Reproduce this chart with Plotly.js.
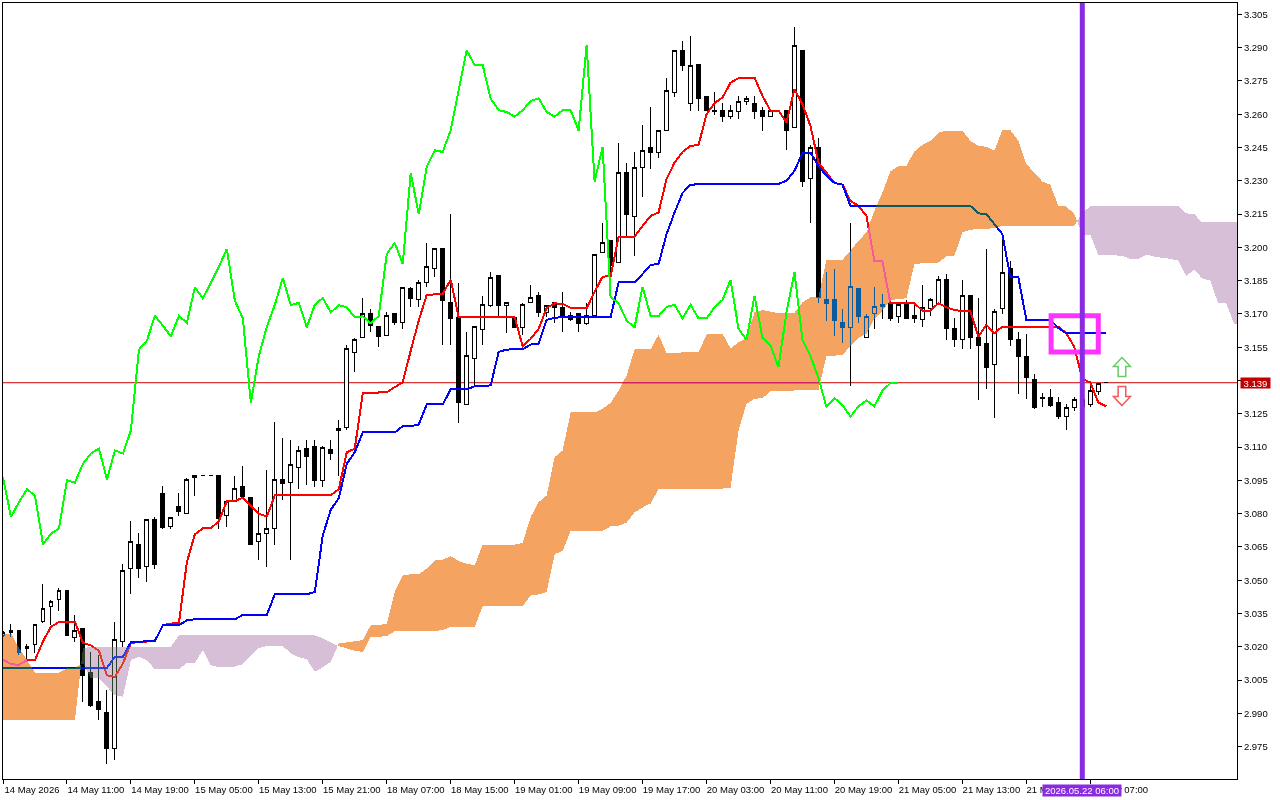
<!DOCTYPE html>
<html>
<head>
<meta charset="utf-8">
<script src="https://cdn.plot.ly/plotly-3.0.1.min.js"></script>
<style>
html, body { margin: 0; padding: 0; background: #fff; }
#chart { width: 1280px; height: 800px; }
/* the terminal paints the cloud in XOR style, candles and lines show through inverted */
.js-fill { mix-blend-mode: difference; }
/* no antialiasing in the terminal, and soft edges turn into odd colours under the blend */
.scatterlayer path, .boxlayer path { shape-rendering: crispEdges !important; }
</style>
</head>
<body>
<div id="chart"></div>
<script>
var opens = [
3.0252,3.0263,3.0275,3.0191,3.0211,3.0314,3.0382,3.0413,3.0454,3.0242,
3.0283,3.0085,2.9955,2.9906,2.9741,3.0222,3.0551,3.0662,3.056,3.0773,
3.0891,3.0742,3.0833,3.08,3.0962,3.0971,3.0971,3.0971,3.0791,3.0857,
3.0923,3.0873,3.0674,3.071,3.0733,3.0953,3.094,3.101,3.1094,3.1103,
3.095,3.1089,3.1184,3.119,3.1527,3.1592,3.17,3.1642,3.1601,3.17,
3.166,3.1813,3.1763,3.184,3.1903,3.1993,3.1751,3.1682,3.1291,3.15,
3.1631,3.1739,3.1871,3.1739,3.1685,3.164,3.175,3.1781,3.1707,3.175,
3.173,3.1691,3.17,3.1658,3.1691,3.1979,3.203,3.193,3.2339,3.2141,
3.2362,3.2452,3.2429,3.2528,3.2699,3.2889,3.265,3.2822,3.2681,3.2618,
3.2618,3.2589,3.261,3.2659,3.265,3.2618,3.2591,3.2618,3.2618,3.2542,
3.2888,3.2312,3.2452,3.1763,3.1764,3.166,3.164,3.1813,3.1592,3.17,
3.1732,3.1745,3.169,3.1745,3.1691,3.1673,3.1723,3.1745,3.1853,3.1633,
3.1583,3.1781,3.1592,3.1568,3.1471,3.1723,3.1903,3.1583,3.151,3.1403,
3.1323,3.1322,3.13,3.1239,3.128,3.1313,3.1291,3.1352,3.139];
var highs = [
3.0271,3.0302,3.0275,3.0212,3.0301,3.0482,3.0413,3.0464,3.0454,3.0342,
3.0283,3.0176,3.0162,3.0005,3.0314,3.0572,3.0765,3.0713,3.0773,3.0785,
3.0923,3.0782,3.0891,3.0962,3.0971,3.0971,3.0971,3.0971,3.0855,3.0972,
3.1013,3.0873,3.083,3.0995,3.1211,3.1139,3.113,3.1107,3.113,3.113,
3.1107,3.1134,3.1224,3.1561,3.1593,3.1772,3.1723,3.1642,3.1709,3.17,
3.182,3.1823,3.1853,3.202,3.1993,3.1993,3.215,3.184,3.1619,3.1642,
3.1782,3.189,3.1871,3.175,3.1685,3.175,3.1832,3.1799,3.1739,3.175,
3.18,3.1709,3.17,3.175,3.197,3.2111,3.203,3.2471,3.238,3.243,
3.2552,3.2633,3.2528,3.2762,3.2888,3.293,3.2952,3.2822,3.2681,3.27,
3.265,3.2641,3.2681,3.2682,3.2681,3.2632,3.2618,3.2618,3.2618,3.2993,
3.2888,3.2462,3.2492,3.189,3.1903,3.1723,3.211,3.1813,3.17,3.1823,
3.179,3.1745,3.1741,3.1763,3.1748,3.1832,3.1773,3.1871,3.188,3.1682,
3.1853,3.1781,3.1772,3.1993,3.1723,3.2061,3.194,3.162,3.161,3.143,
3.1343,3.1363,3.1325,3.1292,3.1325,3.1325,3.139,3.139,3.139];
var lows = [
3.0243,3.0243,3.0162,3.014,3.0171,3.0306,3.0297,3.0362,3.0249,3.0222,
2.9952,2.993,2.987,2.9672,2.969,3.02,3.0437,3.0509,3.0492,3.0551,
3.0733,3.0733,3.0789,3.08,3.0878,3.0971,3.0971,3.0733,3.074,3.0857,
3.0879,3.0659,3.059,3.056,3.0657,3.086,3.059,3.091,3.0927,3.0918,
3.0918,3.104,3.0968,3.1175,3.1437,3.1592,3.1617,3.155,3.1601,3.1651,
3.1631,3.173,3.173,3.182,3.1868,3.1559,3.1559,3.1208,3.1291,3.137,
3.1559,3.173,3.1685,3.1616,3.164,3.1607,3.175,3.1685,3.1688,3.1658,
3.1617,3.167,3.1617,3.1652,3.1691,3.1979,3.1863,3.193,3.2045,3.1961,
3.2229,3.2351,3.2402,3.2528,3.2679,3.2795,3.2615,3.2615,3.2618,3.2597,
3.2567,3.258,3.258,3.2641,3.258,3.2526,3.2591,3.2618,3.2438,3.2542,
3.227,3.211,3.1748,3.167,3.1602,3.1568,3.1377,3.1658,3.1592,3.1633,
3.1678,3.167,3.1658,3.168,3.1658,3.164,3.169,3.1745,3.1583,3.155,
3.1543,3.1543,3.131,3.1363,3.1232,3.17,3.1557,3.134,3.1318,3.1271,
3.128,3.128,3.1228,3.1175,3.1262,3.1262,3.128,3.1337,3.139];
var closes = [
3.0264,3.0274,3.0176,3.0202,3.0301,3.0373,3.0404,3.0454,3.0249,3.0274,
3.0069,2.9937,2.9919,2.9741,3.0233,3.0544,3.0674,3.0551,3.0773,3.0569,
3.0738,3.0782,3.081,3.0953,3.0971,3.0971,3.0971,3.0778,3.0855,3.0913,
3.0879,3.0659,3.071,3.0733,3.0953,3.0938,3.1021,3.1085,3.1058,3.095,
3.1098,3.1071,3.1177,3.1543,3.1583,3.17,3.1649,3.1599,3.1691,3.166,
3.182,3.177,3.184,3.1912,3.1993,3.176,3.168,3.13,3.1511,3.1642,
3.1741,3.1862,3.1739,3.175,3.164,3.1741,3.1772,3.1707,3.1739,3.173,
3.1685,3.1674,3.1658,3.1691,3.197,3.202,3.1917,3.2339,3.2148,3.2362,
3.2438,3.2429,3.2528,3.2708,3.2888,3.2821,3.2821,3.267,3.2618,3.261,
3.2589,3.2618,3.2659,3.2672,3.261,3.2589,3.2618,3.2618,3.2526,3.2911,
3.2297,3.2452,3.1775,3.1748,3.167,3.164,3.1822,3.169,3.169,3.1732,
3.1741,3.168,3.1741,3.168,3.168,3.173,3.1763,3.1853,3.1633,3.1583,
3.1781,3.1592,3.1559,3.146,3.1709,3.1888,3.1583,3.151,3.1412,3.128,
3.132,3.1289,3.1238,3.128,3.1313,3.1284,3.1354,3.1388,3.139];

var tenkan = [
3.0143,3.0122,3.0119,3.014,3.014,3.0225,3.029,3.0312,3.0312,3.0312,
3.0218,3.0206,3.0182,3.0072,3.0065,3.0125,3.0218,3.0222,3.0225,3.0227,
3.0297,3.0305,3.0306,3.0582,3.0707,3.0734,3.0734,3.0767,3.0857,3.0857,
3.0872,3.0837,3.08,3.0788,3.0882,3.0882,3.0882,3.0882,3.0882,3.0882,
3.0882,3.0884,3.091,3.1077,3.1093,3.1343,3.1345,3.1346,3.1347,3.137,
3.1392,3.1535,3.167,3.1786,3.1787,3.179,3.1854,3.1685,3.1685,3.1685,
3.1685,3.1685,3.1685,3.1685,3.1685,3.1554,3.1588,3.1633,3.1727,3.1748,
3.1745,3.1727,3.1725,3.1725,3.18,3.1868,3.187,3.2048,3.2048,3.2048,
3.2097,3.2142,3.2157,3.2308,3.2382,3.243,3.2457,3.2461,3.26,3.265,
3.2675,3.2742,3.2762,3.2765,3.2765,3.2682,3.2616,3.2616,3.2562,3.2713,
3.2645,3.2547,3.2382,3.2336,3.229,3.2283,3.221,3.2187,3.2142,3.1937,
3.1937,3.1748,3.1748,3.1748,3.1748,3.1715,3.1715,3.1748,3.173,3.1718,
3.1712,3.1712,3.1598,3.1651,3.1613,3.1643,3.1643,3.1643,3.1643,3.1643,
3.1643,3.1643,3.1643,3.1613,3.1551,3.1409,3.1391,3.1301,3.1283];
var kijun = [
3.0105,3.0105,3.0105,3.0105,3.0105,3.0105,3.0105,3.0105,3.0105,3.0105,
3.0105,3.0105,3.0105,3.0105,3.0155,3.0155,3.0221,3.0223,3.0225,3.0227,
3.0297,3.0297,3.0297,3.032,3.0324,3.0324,3.0324,3.0324,3.0324,3.0324,
3.0344,3.0344,3.0344,3.0344,3.0437,3.0437,3.0437,3.0437,3.0437,3.0447,
3.0702,3.0818,3.0869,3.1025,3.1077,3.1166,3.1166,3.1166,3.1166,3.1166,
3.1194,3.1194,3.1202,3.1292,3.1292,3.1292,3.136,3.136,3.136,3.1374,
3.1376,3.1378,3.1529,3.1539,3.1541,3.1541,3.1562,3.1565,3.1673,3.1683,
3.1685,3.1685,3.1685,3.1685,3.1685,3.1685,3.1685,3.1842,3.1842,3.1842,
3.188,3.1921,3.1925,3.206,3.2157,3.2245,3.2283,3.2283,3.2283,3.2283,
3.2283,3.2285,3.2285,3.2285,3.2285,3.2285,3.2285,3.2286,3.23,3.2345,
3.2425,3.2427,3.2367,3.2322,3.229,3.2283,3.2187,3.2187,3.2187,3.2187,
3.2187,3.2187,3.2187,3.2187,3.2187,3.2187,3.2187,3.2187,3.2187,3.2187,
3.2187,3.2187,3.2153,3.215,3.2105,3.206,3.1865,3.1865,3.1674,3.1674,
3.1674,3.1674,3.1637,3.1613,3.1613,3.1613,3.1613,3.1613,3.1613];
var chikou = [
3.0965,3.0785,3.0852,3.091,3.0882,3.0662,3.071,3.0733,3.095,3.094,
3.1025,3.1071,3.1094,3.0954,3.1085,3.1071,3.1175,3.1539,3.158,3.1692,
3.1647,3.1599,3.1691,3.166,3.182,3.177,3.184,3.1912,3.1993,3.176,
3.168,3.13,3.1511,3.1642,3.1741,3.1862,3.1739,3.175,3.164,3.1741,
3.1772,3.1707,3.1739,3.173,3.1685,3.1689,3.1658,3.1691,3.197,3.202,
3.1925,3.2336,3.2149,3.2363,3.2437,3.243,3.2528,3.2708,3.2888,3.2821,
3.2821,3.267,3.2618,3.261,3.2589,3.2618,3.2659,3.2672,3.261,3.2589,
3.2618,3.2618,3.2526,3.2911,3.2297,3.2452,3.1775,3.1748,3.167,3.164,
3.1822,3.169,3.169,3.1732,3.1741,3.168,3.1741,3.168,3.168,3.173,
3.1763,3.1853,3.1633,3.1583,3.1781,3.1592,3.1559,3.146,3.1709,3.1888,
3.1583,3.151,3.1412,3.128,3.1321,3.1289,3.1238,3.1283,3.131,3.1284,
3.1354,3.1388,3.139];
var spanA = [
3.026,3.026,3.0194,3.014,3.0083,3.0083,3.0083,3.0083,3.0104,3.0105,
3.0126,3.0058,3.0058,3.002,2.9982,2.9975,3.014,3.0155,3.014,3.0099,
3.0099,3.0099,3.0099,3.0128,3.0128,3.0185,3.0117,3.0108,3.0107,3.0111,
3.0122,3.0162,3.0194,3.0203,3.0203,3.0203,3.0171,3.0153,3.0144,3.0087,
3.0108,3.0132,3.0215,3.022,3.0225,3.023,3.0297,3.0297,3.0305,3.0447,
3.0522,3.0527,3.0527,3.0553,3.0589,3.0593,3.0608,3.0587,3.0575,3.0567,
3.0661,3.0661,3.0661,3.0661,3.0661,3.0668,3.0785,3.0852,3.0882,3.1055,
3.1085,3.1256,3.1256,3.1256,3.1256,3.1273,3.1299,3.1355,3.1422,3.154,
3.154,3.154,3.1607,3.1523,3.1523,3.1527,3.1527,3.1527,3.1607,3.161,
3.161,3.1545,3.1572,3.1592,3.1707,3.1718,3.171,3.1703,3.1703,3.1705,
3.1752,3.1775,3.1775,3.1944,3.1944,3.1944,3.1985,3.203,3.2067,3.2165,
3.2247,3.2342,3.2367,3.2367,3.2432,3.2462,3.248,3.2517,3.2525,3.2525,
3.2525,3.248,3.2457,3.2453,3.2435,3.2528,3.2528,3.248,3.2375,3.2337,
3.2297,3.2282,3.2187,3.2184,3.215,3.2057,3.2057,3.1966,3.1966,3.1964,
3.1962,3.1948,3.1948,3.1967,3.1958,3.1953,3.1948,3.194,3.1872,3.1899,
3.186,3.185,3.1748,3.1748,3.1655,3.1655];
var spanB = [
2.987,2.987,2.987,2.987,2.987,2.987,2.987,2.987,2.987,2.987,
3.0194,3.02,3.02,3.02,3.02,3.02,3.02,3.02,3.02,3.02,
3.02,3.02,3.0252,3.0252,3.0252,3.0252,3.0252,3.0252,3.0252,3.0252,
3.0252,3.0252,3.0252,3.0252,3.0252,3.0252,3.0252,3.0252,3.0252,3.0252,
3.0239,3.0221,3.0203,3.0193,3.0182,3.0177,3.0245,3.0245,3.0249,3.027,
3.0272,3.0272,3.0272,3.0272,3.0272,3.0275,3.029,3.029,3.029,3.029,
3.0383,3.0383,3.0383,3.0383,3.0383,3.0384,3.0432,3.0436,3.0447,3.0617,
3.0632,3.0722,3.0722,3.0722,3.0722,3.0722,3.0743,3.0746,3.076,3.0806,
3.0828,3.0846,3.091,3.091,3.091,3.091,3.091,3.091,3.091,3.091,
3.0913,3.0917,3.1175,3.1295,3.1318,3.132,3.1352,3.1355,3.1355,3.1355,
3.1358,3.1358,3.1358,3.1512,3.1512,3.1516,3.1554,3.1592,3.1611,3.1679,
3.1715,3.176,3.1768,3.177,3.1925,3.1928,3.1928,3.1932,3.1959,3.1962,
3.2067,3.2079,3.2083,3.2083,3.2087,3.2097,3.2097,3.2097,3.2097,3.2097,
3.2097,3.2097,3.2097,3.2097,3.2097,3.2157,3.2184,3.2187,3.2187,3.2187,
3.2187,3.2187,3.2187,3.2187,3.2187,3.2187,3.2187,3.2187,3.2153,3.215,
3.2112,3.2112,3.2112,3.2112,3.2112,3.2112];

var timeTicks = [0,8,16,24,32,40,48,56,64,72,80,88,96,104,112,120,128,136];
var timeLabels = ["14 May 2026","14 May 11:00","14 May 19:00","15 May 05:00","15 May 13:00","15 May 21:00",
    "18 May 07:00","18 May 15:00","19 May 01:00","19 May 09:00","19 May 17:00","20 May 03:00",
    "20 May 11:00","20 May 19:00","21 May 05:00","21 May 13:00","21 May 21:00","22 May 07:00"];
var priceTicks = [3.305,3.290,3.275,3.260,3.245,3.230,3.215,3.200,3.185,3.170,3.155,3.140,3.125,3.110,3.095,3.080,3.065,3.050,3.035,3.020,3.005,2.990,2.975];

var bidPrice = 3.139;
var cursorBar = 135;
var cursorLabel = "2026.05.22 06:00";
var boxBars = [131.1, 137];
var boxPrices = [3.1528, 3.1692];
var arrowBar = 139.96;
var arrowUpPrice = 3.1461;
var arrowDownPrice = 3.133;

var xRange = [0, 154.35];
var yRange = [2.96045, 3.3101];

function index(arr){
    var v = [];
    for(var i = 0; i < arr.length; i++){
        v.push(i);
    }
    return v;
}

// split the span into runs of one sign and close each run as a polygon
function cloud(sign){
    var xs = [], ys = [];
    var run = null;
    function flush(){
        if(!run) return;
        if(run.sign == sign){
            if(xs.length) { xs.push(null); ys.push(null); }
            for(var k = 0; k < run.x.length; k++){ xs.push(run.x[k]); ys.push(run.a[k]); }
            for(var k = run.x.length-1; k >= 0; k--){ xs.push(run.x[k]); ys.push(run.b[k]); }
        }
    }
    for(var i = 0; i < spanA.length; i++){
        var s = spanA[i] >= spanB[i] ? 1 : -1;
        if(!run || run.sign != s){
            var start = {sign: s, x: [], a: [], b: []};
            if(run){
                var d0 = spanA[i-1]-spanB[i-1], d1 = spanA[i]-spanB[i];
                var t = d0/(d0-d1);
                var cx = i-1+t, cy = spanA[i-1]+t*(spanA[i]-spanA[i-1]);
                run.x.push(cx); run.a.push(cy); run.b.push(cy);
                start.x.push(cx); start.a.push(cy); start.b.push(cy);
            }
            flush();
            run = start;
        }
        run.x.push(Math.min(i, xRange[1])); run.a.push(spanA[i]); run.b.push(spanB[i]);
    }
    flush();
    return {x: xs, y: ys};
}

var up = cloud(1), down = cloud(-1);

var data = [
    {
        type: 'candlestick',
        x: index(opens), open: opens, high: highs, low: lows, close: closes,
        increasing: {line: {color: '#000000', width: 1}, fillcolor: '#ffffff'},
        decreasing: {line: {color: '#000000', width: 1}, fillcolor: '#000000'},
        whiskerwidth: 0,
        hoverinfo: 'skip'
    },
    {type: 'scatter', mode: 'lines', x: index(tenkan), y: tenkan, line: {color: '#ff0000', width: 2}, hoverinfo: 'skip'},
    {type: 'scatter', mode: 'lines', x: index(kijun), y: kijun, line: {color: '#0000ff', width: 2}, hoverinfo: 'skip'},
    // fill colours are the inverse of sandybrown and thistle, see the css above
    {type: 'scatter', mode: 'none', x: up.x, y: up.y, fill: 'toself', fillcolor: '#0b5b9f', hoverinfo: 'skip'},
    {type: 'scatter', mode: 'none', x: down.x, y: down.y, fill: 'toself', fillcolor: '#274027', hoverinfo: 'skip'},
    {type: 'scatter', mode: 'lines', x: index(chikou), y: chikou, line: {color: '#00ff00', width: 2}, hoverinfo: 'skip'}
];

var tickFont = {family: '"Liberation Sans", sans-serif', size: 9.5, color: '#000000'};

var arrowUpPath = 'M 0 9.5 L 8.5 0.5 L 3.8 0.5 L 3.8 -9.5 L -3.8 -9.5 L -3.8 0.5 L -8.5 0.5 Z';
var arrowDownPath = 'M 0 -9.5 L 8.5 -0.5 L 3.8 -0.5 L 3.8 9.5 L -3.8 9.5 L -3.8 -0.5 L -8.5 -0.5 Z';

var layout = {
    width: 1280,
    height: 800,
    margin: {l: 2.5, r: 42.5, t: 2.5, b: 20.5},
    paper_bgcolor: '#ffffff',
    plot_bgcolor: '#ffffff',
    showlegend: false,
    dragmode: false,
    xaxis: {
        type: 'linear', range: xRange, tickmode: 'array', tickvals: timeTicks, ticktext: timeLabels,
        ticks: 'outside', ticklen: 4, tickwidth: 1, tickcolor: '#000000',
        ticklabelshift: 29, ticklabelstandoff: -2, tickangle: 0, tickfont: tickFont,
        showgrid: false, zeroline: false, showline: true, mirror: true, linecolor: '#000000', linewidth: 1,
        rangeslider: {visible: false}, fixedrange: true
    },
    yaxis: {
        side: 'right', range: yRange, tickmode: 'array', tickvals: priceTicks, tickformat: '.3f',
        ticks: 'outside', ticklen: 4, tickwidth: 1, tickcolor: '#000000', tickfont: tickFont,
        showgrid: false, zeroline: false, showline: true, mirror: true, linecolor: '#000000', linewidth: 1,
        fixedrange: true
    },
    shapes: [
        {type: 'line', layer: 'below', xref: 'paper', x0: 0, x1: 1, yref: 'y', y0: bidPrice, y1: bidPrice, line: {color: '#d00000', width: 1}},
        {type: 'rect', xref: 'x', yref: 'y', x0: boxBars[0], x1: boxBars[1], y0: boxPrices[0], y1: boxPrices[1], line: {color: '#ff33ff', width: 5}},
        {type: 'line', xref: 'x', yref: 'paper', x0: cursorBar, x1: cursorBar, y0: 0, y1: 1, line: {color: '#8a2be2', width: 5}},
        {type: 'path', xref: 'x', yref: 'y', xsizemode: 'pixel', ysizemode: 'pixel', xanchor: arrowBar, yanchor: arrowUpPrice, path: arrowUpPath, fillcolor: '#ffffff', line: {color: '#66cc66', width: 1.5}},
        {type: 'path', xref: 'x', yref: 'y', xsizemode: 'pixel', ysizemode: 'pixel', xanchor: arrowBar, yanchor: arrowDownPrice, path: arrowDownPath, fillcolor: '#ffffff', line: {color: '#f05a5a', width: 1.5}}
    ],
    annotations: [
        {xref: 'paper', x: 1, xanchor: 'left', xshift: 3, yref: 'y', y: bidPrice, yanchor: 'middle', text: bidPrice.toFixed(3), showarrow: false,
            bgcolor: '#c00000', width: 29, height: 10, borderpad: 0, font: {family: tickFont.family, size: 9.5, color: '#ffffff'}},
        {xref: 'x', x: cursorBar, xanchor: 'center', yref: 'paper', y: 0, yanchor: 'top', yshift: -5, text: cursorLabel, showarrow: false,
            bgcolor: '#8a2be2', width: 78, height: 11, borderpad: 0, font: {family: tickFont.family, size: 9.5, color: '#ffffff'}}
    ]
};

Plotly.newPlot('chart', data, layout, {displayModeBar: false, staticPlot: true}).then(function(gd){
    // a clip on the subplot group would isolate the blend from the white background, keep it on the candles only
    var clip = null;
    var el = gd.querySelector('.js-fill');
    while(el && el.tagName != 'svg'){
        if(el.getAttribute('clip-path')){
            clip = clip || el.getAttribute('clip-path');
            el.removeAttribute('clip-path');
        }
        el = el.parentNode;
    }
    var box = gd.querySelector('.boxlayer');
    if(clip && box){
        box.setAttribute('clip-path', clip);
    }
});
</script>
</body>
</html>
